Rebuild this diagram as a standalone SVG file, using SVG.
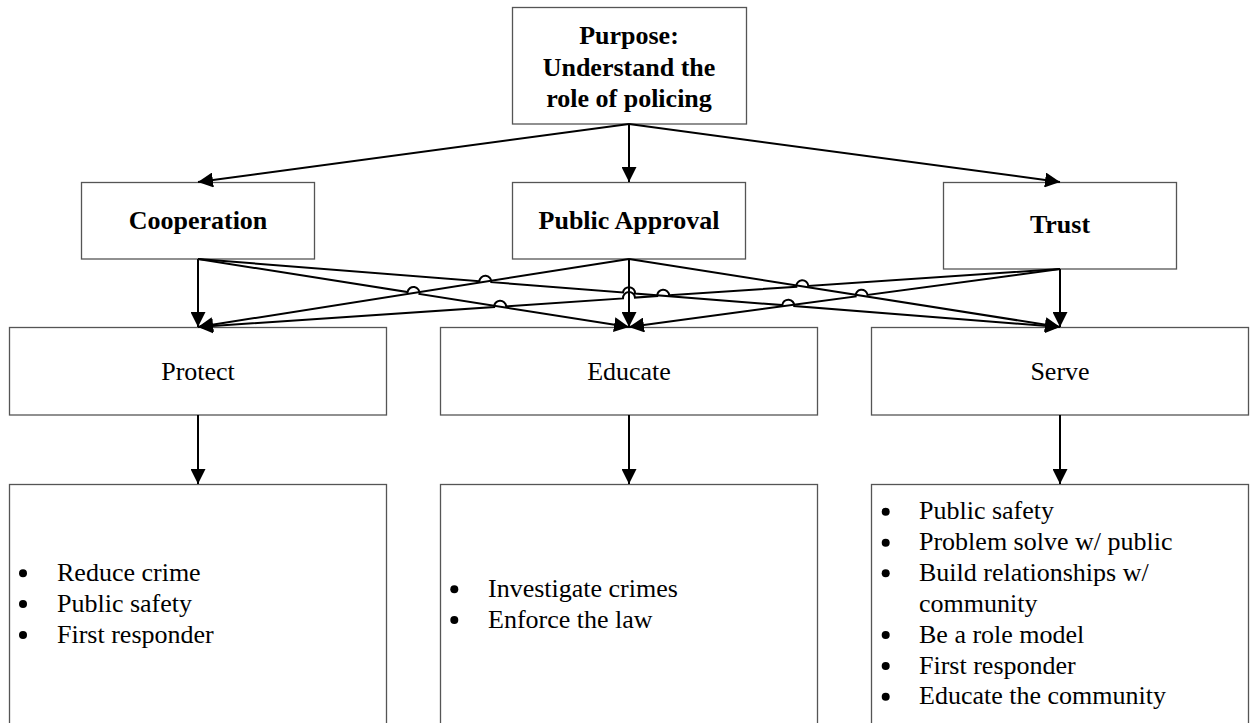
<svg xmlns="http://www.w3.org/2000/svg" width="1254" height="723" viewBox="0 0 1254 723">
<style>
.box{fill:#fff;stroke:#555;stroke-width:1.3}
.t{font-family:"Liberation Serif","Times New Roman",serif;font-size:26px;fill:#000}
.b{font-weight:bold}
.c{text-anchor:middle}
.ln{fill:none;stroke:#000;stroke-width:2}
.dot{fill:#000}
</style>
<defs>
<marker id="ah" markerUnits="userSpaceOnUse" markerWidth="15" markerHeight="15" refX="15" refY="7.5" orient="auto" viewBox="0 0 15 15">
<path d="M0,0 L15,7.5 L0,15 z" fill="#000"/>
</marker>
</defs>
<rect width="1254" height="723" fill="#fff"/>

<g id="purpose">
<rect class="box" x="512.5" y="7.5" width="234" height="116.5"/>
<text class="t b c" x="629" y="44">Purpose:</text>
<text class="t b c" x="629" y="76">Understand the</text>
<text class="t b c" x="629" y="107">role of policing</text>
</g>

<g id="cooperation">
<rect class="box" x="81.5" y="182.5" width="233" height="76.5"/>
<text class="t b c" x="198" y="229">Cooperation</text>
</g>

<g id="public-approval">
<rect class="box" x="512.5" y="182.5" width="233" height="76.5"/>
<text class="t b c" x="629" y="229">Public Approval</text>
</g>

<g id="trust">
<rect class="box" x="943.5" y="182.5" width="233" height="86.5"/>
<text class="t b c" x="1060" y="233">Trust</text>
</g>

<g id="protect">
<rect class="box" x="9.5" y="327.5" width="377" height="87.5"/>
<text class="t c" x="198" y="380">Protect</text>
</g>

<g id="educate">
<rect class="box" x="440.5" y="327.5" width="377" height="87.5"/>
<text class="t c" x="629" y="380">Educate</text>
</g>

<g id="serve">
<rect class="box" x="871.5" y="327.5" width="377" height="87.5"/>
<text class="t c" x="1060" y="380">Serve</text>
</g>

<g id="protect-list">
<rect class="box" x="9.5" y="484.5" width="377" height="250"/>
<circle class="dot" cx="23" cy="573.3" r="4"/>
<circle class="dot" cx="23" cy="604" r="4"/>
<circle class="dot" cx="23" cy="635" r="4"/>
<text class="t" x="57" y="581">Reduce crime</text>
<text class="t" x="57" y="612">Public safety</text>
<text class="t" x="57" y="643">First responder</text>
</g>

<g id="educate-list">
<rect class="box" x="440.5" y="484.5" width="377" height="250"/>
<circle class="dot" cx="454.3" cy="589.3" r="4"/>
<circle class="dot" cx="454.3" cy="620" r="4"/>
<text class="t" x="488" y="597">Investigate crimes</text>
<text class="t" x="488" y="628">Enforce the law</text>
</g>

<g id="serve-list">
<rect class="box" x="871.5" y="484.5" width="377" height="250"/>
<circle class="dot" cx="885.7" cy="511.7" r="4"/>
<circle class="dot" cx="885.7" cy="542.7" r="4"/>
<circle class="dot" cx="885.7" cy="573.3" r="4"/>
<circle class="dot" cx="885.7" cy="635" r="4"/>
<circle class="dot" cx="885.7" cy="666" r="4"/>
<circle class="dot" cx="885.7" cy="696.7" r="4"/>
<text class="t" x="919" y="519">Public safety</text>
<text class="t" x="919" y="550">Problem solve w/ public</text>
<text class="t" x="919" y="581">Build relationships w/</text>
<text class="t" x="919" y="612">community</text>
<text class="t" x="919" y="643">Be a role model</text>
<text class="t" x="919" y="674">First responder</text>
<text class="t" x="919" y="704">Educate the community</text>
</g>

<g id="connectors">
<path class="ln" marker-end="url(#ah)" d="M629,124 L198,182"/>
<path class="ln" marker-end="url(#ah)" d="M629,124 L629,182"/>
<path class="ln" marker-end="url(#ah)" d="M629,124 L1060,182"/>

<path class="ln" marker-end="url(#ah)" d="M198,259 L198,327"/>
<path class="ln" marker-end="url(#ah)" d="M629,259 L629,327"/>
<path class="ln" marker-end="url(#ah)" d="M1060,269 L1060,327"/>

<path class="ln" marker-end="url(#ah)" d="M629,259 L198,327"/>
<path class="ln" marker-end="url(#ah)" d="M629,259 L1060,327"/>
<path class="ln" marker-end="url(#ah)" d="M198,259 L407.57,292.07 A6,6 0 0 1 419.43,293.94 L629,327"/>
<path class="ln" marker-end="url(#ah)" d="M198,259 L479.35,281.2 A6,6 0 0 1 491.31,282.14 L623.02,292.53 A6,6 0 0 1 634.98,293.47 L782.3,305.09 A6,6 0 0 1 794.26,306.03 L1060,327"/>
<path class="ln" marker-end="url(#ah)" d="M1060,269 L808.28,285.94 A6,6 0 0 0 796.3,286.74 L669.19,295.3 A6,6 0 0 0 657.21,296.1 L634.99,297.6 A6,6 0 0 0 623.01,298.4 L506.13,306.27 A6,6 0 0 0 494.15,307.07 L198,327"/>
<path class="ln" marker-end="url(#ah)" d="M1060,269 L867.55,294.9 A6,6 0 0 0 855.65,296.5 L629,327"/>

<path class="ln" marker-end="url(#ah)" d="M198,415 L198,484"/>
<path class="ln" marker-end="url(#ah)" d="M629,415 L629,484"/>
<path class="ln" marker-end="url(#ah)" d="M1060,415 L1060,484"/>
</g>
</svg>
